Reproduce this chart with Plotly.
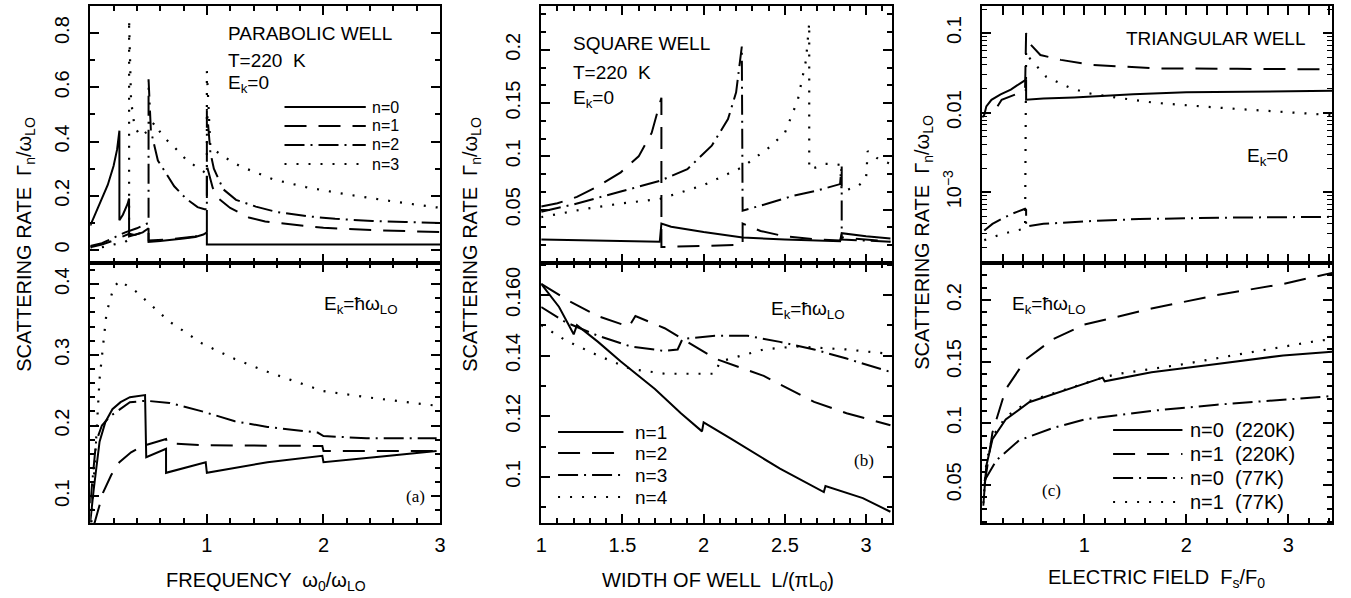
import plotly.graph_objects as go

W, H = 1351, 598

# ---------------- Panel (a) PARABOLIC WELL, E_k = 0 ----------------
a0_x = [0.0, 0.05, 0.1, 0.15, 0.2, 0.23, 0.25, 0.25, 0.28, 0.32, 0.333, 0.333, 0.38, 0.45, 0.5, 0.5,
        0.6, 0.7, 0.8, 0.9, 0.97, 1.0, 1.0, 1.5, 2.0, 2.5, 3.0]
a0_y = [0.09, 0.14, 0.19, 0.24, 0.31, 0.37, 0.44, 0.11, 0.13, 0.17, 0.19, 0.06, 0.055, 0.065, 0.08, 0.03,
        0.033, 0.037, 0.042, 0.048, 0.057, 0.065, 0.02, 0.02, 0.02, 0.02, 0.02]
a1_x = [0.0, 0.1, 0.2, 0.25, 0.333, 0.333, 0.45, 0.5, 0.5, 0.7, 0.9, 1.0, 1.0, 1.05, 1.1, 1.2, 1.36,
        1.5, 1.75, 1.9, 2.0, 2.5, 3.0]
a1_y = [0.01, 0.02, 0.035, 0.045, 0.06, 0.05, 0.065, 0.075, 0.035, 0.04, 0.05, 0.06, 0.31, 0.23, 0.19,
        0.155, 0.12, 0.105, 0.092, 0.086, 0.082, 0.072, 0.066]
a2_x = [0.0, 0.1, 0.2, 0.3, 0.4, 0.5, 0.5, 0.52, 0.58, 0.65, 0.72, 0.82, 0.92, 0.98, 1.0, 1.0, 1.03,
        1.06, 1.14, 1.25, 1.42, 1.6, 1.85, 2.1, 2.42, 2.7, 3.0]
a2_y = [0.015, 0.025, 0.045, 0.065, 0.08, 0.10, 0.63, 0.44, 0.33, 0.28, 0.235, 0.19, 0.158, 0.15, 0.15,
        0.52, 0.36, 0.30, 0.224, 0.185, 0.16, 0.14, 0.125, 0.115, 0.107, 0.103, 0.10]
a3_x = [0.0, 0.1, 0.2, 0.3, 0.333, 0.333, 0.35, 0.38, 0.43, 0.5, 0.55, 0.62, 0.72, 0.83, 0.97, 1.0,
        1.0, 1.03, 1.14, 1.28, 1.57, 1.85, 2.13, 2.5, 2.95, 3.0]
a3_y = [0.0, 0.01, 0.02, 0.03, 0.04, 0.85, 0.55, 0.455, 0.42, 0.44, 0.47, 0.42, 0.38, 0.33, 0.29, 0.28,
        0.66, 0.38, 0.345, 0.31, 0.26, 0.232, 0.21, 0.185, 0.158, 0.156]

# ---------------- Panel (a) E_k = hbar w_LO ----------------
b0_x = [0.0, 0.03, 0.08, 0.13, 0.19, 0.26, 0.34, 0.47, 0.48, 0.65, 0.65, 0.8, 0.99, 1.0, 1.52, 1.99, 2.0, 2.5, 2.97]
b0_y = [0.063, 0.11, 0.177, 0.205, 0.223, 0.233, 0.24, 0.243, 0.155, 0.167, 0.133, 0.14, 0.148, 0.133,
        0.148, 0.157, 0.148, 0.156, 0.164]
b1_x = [0.03, 0.11, 0.18, 0.25, 0.35, 0.45, 0.65, 0.66, 0.96, 1.5, 1.99, 2.0, 2.5, 2.97]
b1_y = [0.058, 0.105, 0.13, 0.148, 0.162, 0.171, 0.181, 0.175, 0.172, 0.171, 0.171, 0.164, 0.164, 0.164]
b2_x = [0.0, 0.05, 0.1, 0.17, 0.34, 0.48, 0.68, 0.96, 1.24, 1.52, 1.95, 2.0, 2.37, 2.97]
b2_y = [0.09, 0.177, 0.2, 0.213, 0.233, 0.235, 0.232, 0.22, 0.206, 0.198, 0.19, 0.185, 0.182, 0.182]
b3_x = [0.01, 0.04, 0.08, 0.14, 0.2, 0.25, 0.39, 0.68, 0.96, 1.24, 1.52, 1.99, 2.37, 2.97]
b3_y = [0.063, 0.148, 0.266, 0.36, 0.395, 0.405, 0.39, 0.347, 0.316, 0.294, 0.276, 0.249, 0.24, 0.228]

# ---------------- Panel (b) SQUARE WELL, E_k = 0 ----------------
c1_x = [1.0, 1.3, 1.5, 1.73, 1.74, 1.8, 2.0, 2.24, 2.5, 2.84, 2.85, 3.0, 3.15]
c1_y = [0.022, 0.021, 0.0205, 0.02, 0.037, 0.034, 0.029, 0.024, 0.022, 0.0205, 0.028, 0.025, 0.023]
c2_x = [1.0, 1.1, 1.22, 1.35, 1.49, 1.6, 1.68, 1.74, 1.74, 2.0, 2.24, 2.24, 2.35, 2.5, 2.7, 2.84, 2.85, 3.15]
c2_y = [0.053, 0.056, 0.062, 0.072, 0.085, 0.1, 0.122, 0.155, 0.015, 0.016, 0.017, 0.037, 0.03, 0.025,
        0.022, 0.021, 0.024, 0.02]
c3_x = [1.0, 1.2, 1.49, 1.73, 1.9, 2.05, 2.15, 2.2, 2.235, 2.24, 2.4, 2.55, 2.7, 2.84, 2.85, 2.85, 3.15]
c3_y = [0.048, 0.055, 0.067, 0.077, 0.088, 0.11, 0.135, 0.16, 0.203, 0.049, 0.056, 0.063, 0.068, 0.074,
        0.092, 0.022, 0.02]
c4_x = [1.0, 1.28, 1.5, 1.73, 2.0, 2.24, 2.4, 2.5, 2.58, 2.63, 2.65, 2.65, 2.7, 2.75, 2.8, 2.84, 2.85,
        2.95, 3.0, 3.01, 3.08, 3.15]
c4_y = [0.043, 0.051, 0.056, 0.06, 0.073, 0.09, 0.108, 0.122, 0.153, 0.19, 0.225, 0.088, 0.09, 0.093,
        0.093, 0.092, 0.067, 0.072, 0.079, 0.105, 0.097, 0.093]

# ---------------- Panel (b) E_k = hbar w_LO ----------------
d1_x = [1.0, 1.11, 1.2, 1.22, 1.35, 1.49, 1.7, 1.86, 1.99, 2.0, 2.17, 2.47, 2.74, 2.75, 2.98, 3.15]
d1_y = [0.1636, 0.156, 0.147, 0.15, 0.1445, 0.138, 0.129, 0.121, 0.115, 0.118, 0.1125, 0.1027, 0.095,
        0.097, 0.093, 0.0885]
d2_x = [1.0, 1.17, 1.35, 1.54, 1.58, 1.76, 2.07, 2.37, 2.68, 2.88, 3.15]
d2_y = [0.1636, 0.158, 0.153, 0.1495, 0.153, 0.149, 0.139, 0.1333, 0.1247, 0.121, 0.117]
d3_x = [1.0, 1.15, 1.35, 1.55, 1.76, 1.84, 1.87, 2.07, 2.27, 2.47, 2.68, 2.88, 3.15]
d3_y = [0.156, 0.151, 0.1465, 0.143, 0.1415, 0.142, 0.1455, 0.1465, 0.1465, 0.1445, 0.142, 0.139, 0.1346]
d4_x = [1.0, 1.15, 1.35, 1.55, 1.76, 2.07, 2.1, 2.17, 2.37, 2.57, 2.88, 3.15]
d4_y = [0.150, 0.145, 0.140, 0.1356, 0.134, 0.134, 0.138, 0.139, 0.142, 0.143, 0.142, 0.1405]

# ---------------- Panel (c) TRIANGULAR WELL, E_k = 0 (log) ----------------
e0_x = [0.0, 0.02, 0.04, 0.09, 0.18, 0.28, 0.38, 0.43, 0.43, 0.6, 0.9, 1.48, 2.0, 2.7, 3.43]
e0_y = [0.0087, 0.0094, 0.012, 0.0145, 0.017, 0.0195, 0.0237, 0.026, 0.0145, 0.015, 0.0155, 0.017, 0.018,
        0.0185, 0.0188]
e1_x = [0.15, 0.19, 0.33, 0.42, 0.43, 0.46, 0.57, 0.77, 1.06, 1.69, 2.5, 3.43]
e1_y = [0.012, 0.0145, 0.017, 0.0205, 0.1, 0.075, 0.053, 0.046, 0.04, 0.036, 0.0355, 0.035]
e2_x = [0.02, 0.1, 0.2, 0.3, 0.42, 0.43, 0.43, 0.6, 1.0, 1.54, 2.5, 3.43]
e2_y = [0.00033, 0.0004, 0.00047, 0.00054, 0.00062, 0.0006, 0.00037, 0.0004, 0.00043, 0.00046,
        0.00048, 0.00049]
e3_x = [0.02, 0.2, 0.42, 0.43, 0.46, 0.63, 0.86, 1.04, 1.31, 1.69, 2.33, 2.9, 3.43]
e3_y = [0.00025, 0.0003, 0.00035, 0.06, 0.049, 0.028, 0.0205, 0.0175, 0.0155, 0.0133, 0.0115, 0.0103,
        0.0093]

# ---------------- Panel (c) E_k = hbar w_LO ----------------
f0_x = [0.01, 0.04, 0.1, 0.23, 0.46, 0.85, 1.18, 1.2, 1.66, 2.3, 2.95, 3.43]
f0_y = [0.033, 0.0655, 0.087, 0.103, 0.117, 0.1275, 0.137, 0.134, 0.1413, 0.148, 0.155, 0.158]
f1_x = [0.02, 0.1, 0.23, 0.43, 0.69, 1.0, 1.66, 2.3, 2.95, 3.43]
f1_y = [0.049, 0.0925, 0.1275, 0.152, 0.168, 0.18, 0.193, 0.204, 0.213, 0.222]
f2_x = [0.02, 0.14, 0.36, 0.69, 1.0, 1.66, 2.3, 3.3, 3.43]
f2_y = [0.053, 0.07, 0.086, 0.096, 0.103, 0.110, 0.115, 0.121, 0.122]
f3_x = [0.01, 0.04, 0.1, 0.23, 0.46, 0.85, 1.18, 1.33, 1.98, 2.63, 3.3, 3.43]
f3_y = [0.035, 0.068, 0.089, 0.105, 0.118, 0.128, 0.137, 0.14, 0.148, 0.1575, 0.167, 0.168]

# ---------------- labels ----------------
legend_a = ["n=0", "n=1", "n=2", "n=3"]
legend_b = ["n=1", "n=2", "n=3", "n=4"]
legend_c = ["n=0  (220K)", "n=1  (220K)", "n=0  (77K)", "n=1  (77K)"]
log_major = [0.001, 0.01, 0.1]
log_major_text = ["10<sup>\u22123</sup>", "0.01", "0.1"]

FONT = "Liberation Sans, Arial, Helvetica, sans-serif"
STY = [
    dict(color="black", width=2.0, dash="solid"),
    dict(color="black", width=2.0, dash="22px,12px"),
    dict(color="black", width=2.0, dash="20px,6px,2px,6px"),
    dict(color="black", width=2.2, dash="2px,10px"),
]

fig = go.Figure()


def add(xs, ys, i, xa, ya, name):
    fig.add_trace(go.Scatter(
        x=xs, y=ys, mode="lines", line=STY[i], xaxis=xa, yaxis=ya, name=name,
        showlegend=False, hoverinfo="skip"))


for i, (xs, ys) in enumerate([(a0_x, a0_y), (a1_x, a1_y), (a2_x, a2_y), (a3_x, a3_y)]):
    add(xs, ys, i, "x", "y", legend_a[i])
for i, (xs, ys) in enumerate([(b0_x, b0_y), (b1_x, b1_y), (b2_x, b2_y), (b3_x, b3_y)]):
    add(xs, ys, i, "x2", "y2", legend_a[i])
for i, (xs, ys) in enumerate([(c1_x, c1_y), (c2_x, c2_y), (c3_x, c3_y), (c4_x, c4_y)]):
    add(xs, ys, i, "x3", "y3", legend_b[i])
for i, (xs, ys) in enumerate([(d1_x, d1_y), (d2_x, d2_y), (d3_x, d3_y), (d4_x, d4_y)]):
    add(xs, ys, i, "x4", "y4", legend_b[i])
for i, (xs, ys) in enumerate([(e0_x, e0_y), (e1_x, e1_y), (e2_x, e2_y), (e3_x, e3_y)]):
    add(xs, ys, i, "x5", "y5", legend_c[i])
for i, (xs, ys) in enumerate([(f0_x, f0_y), (f1_x, f1_y), (f2_x, f2_y), (f3_x, f3_y)]):
    add(xs, ys, i, "x6", "y6", legend_c[i])


def px_x(p):
    return p / W


def px_y(p):
    return 1 - p / H


dom_a = [px_x(85), px_x(438)]
dom_b = [px_x(540), px_x(894)]
dom_c = [px_x(985), px_x(1338)]
dom_top = [px_y(263), px_y(6)]
dom_bot = [px_y(523), px_y(263)]

tickfont = dict(family=FONT, size=20, color="black")
common = dict(showline=True, linecolor="black", linewidth=2.2, mirror="allticks", ticks="inside",
              ticklen=9, tickwidth=1.6, tickcolor="black", showgrid=False, zeroline=False,
              tickfont=tickfont)


def xax(dom, rng, tickvals, mdtick, labels, anchor):
    return dict(common, domain=dom, range=rng, anchor=anchor, showticklabels=labels,
                tickmode="array", tickvals=tickvals, ticklabelstandoff=3,
                minor=dict(ticks="inside", ticklen=5, tickwidth=1.6, tickcolor="black", dtick=mdtick, tick0=0))


def yax(dom, rng, tickvals, ticktext, mdtick, anchor, typ="linear"):
    d = dict(common, domain=dom, range=rng, anchor=anchor, type=typ, tickmode="array",
             tickvals=tickvals, ticktext=ticktext, tickangle=-90, ticklabelstandoff=11)
    if typ != "log":
        d["minor"] = dict(ticks="inside", ticklen=5, tickwidth=1.6, tickcolor="black", dtick=mdtick, tick0=0)
    return d


# minor ticks of the log axis (2..9 in each decade), drawn by an overlaid log axis
log_minor = [m * 10.0 ** k for k in (-4, -3, -2, -1) for m in range(2, 10)]

fig.update_layout(
    width=W, height=H, margin=dict(l=0, r=0, t=0, b=0),
    paper_bgcolor="white", plot_bgcolor="white", showlegend=False,
    font=dict(family=FONT, size=19, color="black"),
    xaxis=xax(dom_a, [0, 3], [1, 2, 3], 0.2, False, "y"),
    yaxis=yax(dom_top, [-0.048, 0.9], [0, 0.2, 0.4, 0.6, 0.8], ["0", "0.2", "0.4", "0.6", "0.8"], 0.1, "x"),
    xaxis2=xax(dom_a, [0, 3], [1, 2, 3], 0.2, True, "y2"),
    yaxis2=yax(dom_bot, [0.062, 0.43], [0.1, 0.2, 0.3, 0.4], ["0.1", "0.2", "0.3", "0.4"], 0.02, "x2"),
    xaxis3=xax(dom_b, [1, 3.16], [1, 1.5, 2, 2.5, 3], 0.1, False, "y3"),
    yaxis3=yax(dom_top, [0, 0.241], [0.05, 0.1, 0.15, 0.2], ["0.05", "0.1", "0.15", "0.2"], 0.05 / 3, "x3"),
    xaxis4=xax(dom_b, [1, 3.16], [1, 1.5, 2, 2.5, 3], 0.1, True, "y4"),
    yaxis4=yax(dom_bot, [0.0848, 0.1705], [0.1, 0.12, 0.14, 0.16], ["0.1", "0.12", "0.14", "0.160"], 0.01, "x4"),
    xaxis5=xax(dom_c, [0, 3.43], [1, 2, 3], 0.2, False, "y5"),
    yaxis5=yax(dom_top, [-3.89, -0.66], log_major, log_major_text, None, "x5", typ="log"),
    yaxis7=dict(domain=dom_top, range=[-3.89, -0.66], type="log", overlaying="y5", anchor="x5",
                tickmode="array", tickvals=log_minor, showticklabels=False, ticks="inside", ticklen=5,
                tickwidth=1.2, tickcolor="black", showline=False, mirror="allticks", showgrid=False,
                zeroline=False),
    xaxis6=xax(dom_c, [0, 3.43], [1, 2, 3], 0.2, True, "y6"),
    yaxis6=yax(dom_bot, [0.019, 0.23], [0.05, 0.1, 0.15, 0.2], ["0.05", "0.1", "0.15", "0.2"], 0.01, "x6"),
)
# a trace is needed for the overlaid minor-tick axis to be drawn
fig.add_trace(go.Scatter(x=[None], y=[None], xaxis="x5", yaxis="y7", showlegend=False, hoverinfo="skip"))

ann = []
shapes = []


def text(x, y, s, size=19, xanchor="left", angle=0, family=FONT):
    ann.append(dict(x=px_x(x), y=px_y(y), xref="paper", yref="paper", text=s, showarrow=False,
                    xanchor=xanchor, yanchor="middle", textangle=angle,
                    font=dict(family=family, size=size, color="black")))


def legend(names, x0, x1, xt, ys, size):
    for i, (name, yy) in enumerate(zip(names, ys)):
        shapes.append(dict(type="line", xref="paper", yref="paper", x0=px_x(x0), x1=px_x(x1),
                           y0=px_y(yy), y1=px_y(yy), line=STY[i]))
        text(xt, yy, name, size=size)


legend(legend_a, 281, 363, 367, [107, 126, 145, 164], 16)
legend(legend_b, 557, 623, 633, [432, 453, 475, 497], 19)
legend(legend_c, 1117, 1187, 1193, [430, 454, 478, 502], 20)

ytitle = "SCATTERING RATE  \u0393<sub>n</sub>/\u03c9<sub>LO</sub>"
text(20, 244, ytitle, size=20, xanchor="center", angle=-90)
text(470, 244, ytitle, size=20, xanchor="center", angle=-90)
text(926, 242, ytitle, size=20, xanchor="center", angle=-90)

text(262, 581, "FREQUENCY  \u03c9<sub>0</sub>/\u03c9<sub>LO</sub>", size=20, xanchor="center")
text(718, 581, "WIDTH OF WELL  L/(\u03c0L<sub>0</sub>)", size=20, xanchor="center")
text(1161, 578, "ELECTRIC FIELD  F<sub>s</sub>/F<sub>0</sub>", size=20, xanchor="center")

text(222, 34, "PARABOLIC WELL")
text(222, 60, "T=220  K")
text(222, 84, "E<sub>k</sub>=0")
text(319, 305, "E<sub>k</sub>=\u0127\u03c9<sub>LO</sub>")
text(402, 496, "(a)", size=17, family="Liberation Serif, serif")

text(570, 44, "SQUARE WELL")
text(570, 72, "T=220  K")
text(570, 99, "E<sub>k</sub>=0")
text(770, 310, "E<sub>k</sub>=\u0127\u03c9<sub>LO</sub>")
text(854, 460, "(b)", size=17, family="Liberation Serif, serif")

text(1128, 39, "TRIANGULAR WELL")
text(1250, 157, "E<sub>k</sub>=0")
text(1013, 305, "E<sub>k</sub>=\u0127\u03c9<sub>LO</sub>")
text(1043, 490, "(c)", size=17, family="Liberation Serif, serif")

fig.update_layout(annotations=ann, shapes=shapes)
fig.write_html("out.html")
